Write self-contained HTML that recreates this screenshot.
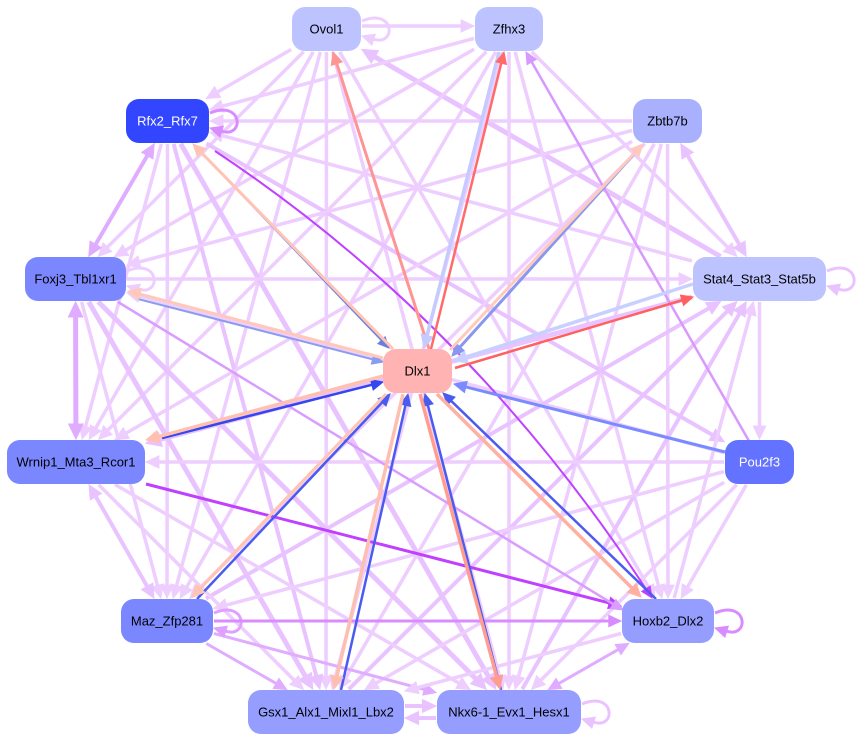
<!DOCTYPE html>
<html>
<head>
<meta charset="utf-8">
<style>
html,body{margin:0;padding:0;background:#fff;}
svg{display:block;}
text{font-family:"Liberation Sans",Arial,sans-serif;font-size:13px;}
</style>
</head>
<body>
<svg id="svg" width="857" height="742" viewBox="0 0 857 742" xmlns="http://www.w3.org/2000/svg">
<rect x="0" y="0" width="857" height="742" fill="#fff"/>
<g id="edges"></g>
<g id="strong"></g>
<g id="nodes">
  <rect x="292" y="7" width="69" height="44" rx="13" fill="#bcc3ff"/>
  <text x="326.5" y="33.5" text-anchor="middle" fill="#000">Ovol1</text>
  <rect x="475" y="7" width="68" height="44" rx="13" fill="#bcc3ff"/>
  <text x="509" y="33.5" text-anchor="middle" fill="#000">Zfhx3</text>
  <rect x="126" y="99" width="83" height="44" rx="13" fill="#3346ff"/>
  <text x="167.5" y="125.5" text-anchor="middle" fill="#fff">Rfx2_Rfx7</text>
  <rect x="633" y="99" width="69" height="44" rx="13" fill="#a9b1ff"/>
  <text x="667.5" y="125.5" text-anchor="middle" fill="#000">Zbtb7b</text>
  <rect x="25" y="257" width="101" height="44" rx="13" fill="#7b87ff"/>
  <text x="75.5" y="283.5" text-anchor="middle" fill="#000">Foxj3_Tbl1xr1</text>
  <rect x="693" y="257" width="133" height="44" rx="13" fill="#bcc3ff"/>
  <text x="759.5" y="283.5" text-anchor="middle" fill="#000">Stat4_Stat3_Stat5b</text>
  <rect x="383" y="349" width="69" height="44" rx="13" fill="#ffb3b3"/>
  <text x="417.5" y="375.5" text-anchor="middle" fill="#000">Dlx1</text>
  <rect x="7" y="440" width="138" height="44" rx="13" fill="#7b87ff"/>
  <text x="76" y="466.5" text-anchor="middle" fill="#000">Wrnip1_Mta3_Rcor1</text>
  <rect x="725" y="440" width="69" height="44" rx="13" fill="#6372ff"/>
  <text x="759.5" y="466.5" text-anchor="middle" fill="#fff">Pou2f3</text>
  <rect x="121" y="599" width="92" height="44" rx="13" fill="#7b87ff"/>
  <text x="167" y="625.5" text-anchor="middle" fill="#000">Maz_Zfp281</text>
  <rect x="622" y="599" width="92" height="44" rx="13" fill="#959eff"/>
  <text x="668" y="625.5" text-anchor="middle" fill="#000">Hoxb2_Dlx2</text>
  <rect x="248" y="690" width="156" height="44" rx="13" fill="#959eff"/>
  <text x="326" y="716.5" text-anchor="middle" fill="#000">Gsx1_Alx1_Mixl1_Lbx2</text>
  <rect x="437" y="690" width="144" height="44" rx="13" fill="#959eff"/>
  <text x="509" y="716.5" text-anchor="middle" fill="#000">Nkx6-1_Evx1_Hesx1</text>
</g>
</svg>
<script>
(function(){
var NS="http://www.w3.org/2000/svg";
var R={
O:[292,7,361,51],Z:[475,7,543,51],R:[126,99,209,143],B:[633,99,702,143],
F:[25,257,126,301],S:[693,257,826,301],D:[383,349,452,393],W:[7,440,145,484],
P:[725,440,794,484],M:[121,599,213,643],H:[622,599,714,643],G:[248,690,404,734],
N:[437,690,581,734]};
var gE=document.getElementById("edges"), gS=document.getElementById("strong");
function el(g,tag,attrs){var e=document.createElementNS(NS,tag);for(var k in attrs)e.setAttribute(k,attrs[k]);g.appendChild(e);return e;}
function ctr(k){var r=R[k];return[(r[0]+r[2])/2,(r[1]+r[3])/2];}
function exitPt(r,p,d){
  var t=Infinity;
  if(d[0]>0)t=Math.min(t,(r[2]-p[0])/d[0]);else if(d[0]<0)t=Math.min(t,(r[0]-p[0])/d[0]);
  if(d[1]>0)t=Math.min(t,(r[3]-p[1])/d[1]);else if(d[1]<0)t=Math.min(t,(r[1]-p[1])/d[1]);
  return[p[0]+d[0]*t,p[1]+d[1]*t];
}
function arrow(g,tip,ux,uy,len,hw,color){
  var bx=tip[0]-ux*len,by=tip[1]-uy*len,px=-uy,py=ux;
  el(g,"polygon",{points:tip[0]+","+tip[1]+" "+(bx+px*hw)+","+(by+py*hw)+" "+(bx-px*hw)+","+(by-py*hw),fill:color,stroke:color,"stroke-width":1});
}
function seg(g,s,e,color,w,aS,aE){
  var dx=e[0]-s[0],dy=e[1]-s[1],L=Math.hypot(dx,dy),ux=dx/L,uy=dy/L;
  var len=8+w*1.4,hw=3.5+w*0.75;
  var a=[s[0],s[1]],b=[e[0],e[1]];
  if(aE){b=[e[0]-ux*(len-1),e[1]-uy*(len-1)];}
  if(aS){a=[s[0]+ux*(len-1),s[1]+uy*(len-1)];}
  el(g,"line",{x1:a[0],y1:a[1],x2:b[0],y2:b[1],stroke:color,"stroke-width":w});
  if(aE)arrow(g,e,ux,uy,len,hw,color);
  if(aS)arrow(g,s,-ux,-uy,len,hw,color);
}
function edge(g,a,b,color,w,dir,off){
  var ca=ctr(a),cb=ctr(b),dx=cb[0]-ca[0],dy=cb[1]-ca[1],L=Math.hypot(dx,dy),ux=dx/L,uy=dy/L,px=-uy,py=ux,o=off||0;
  var pa=[ca[0]+px*o,ca[1]+py*o],pb=[cb[0]+px*o,cb[1]+py*o];
  var s=exitPt(R[a],pa,[ux,uy]),e=exitPt(R[b],pb,[-ux,-uy]);
  s=[s[0]+ux*1,s[1]+uy*1];e=[e[0]-ux*1,e[1]-uy*1];
  seg(g,s,e,color,w,dir.indexOf("<")>=0,dir.indexOf(">")>=0);
}
var L="#eecdff",T="#e9c3ff",Pm="#e0acff";
var lw=3.5;
var E=[
['O','Z',L,lw,'>',-3],['O','R',L,lw,'>'],['O','F',L,lw,'>'],['S','O',T,5,'>'],['O','W',L,lw,'>'],
['O','M',L,lw,'>'],['O','H',L,lw,'>'],['O','G',L,lw,'>'],['O','N',L,lw,'>'],
['Z','R',L,lw,'>'],['Z','F',L,lw,'>'],['Z','S',L,lw,'>'],['Z','W',L,lw,'>'],['Z','M',L,lw,'>'],
['Z','H',L,lw,'>'],['Z','G',L,lw,'>'],['Z','N',L,lw,'>'],
['B','R',L,lw,'>'],['R','F',Pm,4,'<>'],['S','R',L,lw,'>'],['R','W',L,lw,'>'],['R','P',T,4,'>'],
['R','M',L,lw,'>'],['R','G',T,4,'>'],['R','N',T,5,'>'],
['B','F',L,lw,'>'],['B','S',T,4,'<>'],['B','W',L,lw,'>'],['B','M',L,lw,'>'],['B','H',L,lw,'>'],
['B','G',L,lw,'>'],['B','N',L,lw,'>'],
['F','S',L,lw,'>'],['F','W',Pm,5,'<>'],['P','F',L,lw,'>'],['F','M',L,lw,'>'],['F','G',T,5,'>'],['F','N',T,5,'>'],
['S','W',T,5,'>'],['S','P',L,lw,'>'],['M','S',T,4,'>'],['H','S',L,lw,'>'],['G','S',T,4,'>'],['N','S',T,4,'>'],
['P','W',L,lw,'>'],['W','M',T,4,'<>'],['W','G',L,lw,'>'],['W','N',L,lw,'>'],
['P','M',L,lw,'>'],['P','H',L,lw,'>'],['P','G',L,lw,'>'],['P','N',L,lw,'>'],
['M','G',Pm,3,'>'],['M','N',Pm,3,'>'],['H','G',L,lw,'>'],['N','H',Pm,3,'<>'],
['G','N',T,4,'>',-6],['N','G',T,4,'>',-6]
];
E.forEach(function(d){edge(gE,d[0],d[1],d[2],d[3],d[4],d[5]);});

function loop(g,x2,cy,color,w){
  el(g,"path",{d:"M"+(x2+1)+","+(cy-8)+" C"+(x2+34)+","+(cy-22)+" "+(x2+36)+","+(cy+18)+" "+(x2+12)+","+(cy+10),fill:"none",stroke:color,"stroke-width":w});
  arrow(g,[x2+1,cy+7],-0.95,-0.3,8+w*1.4,3.5+w*0.75,color);
}
loop(gE,361,29,L,3);loop(gE,126,279,L,3);loop(gE,826,279,T,3);loop(gE,581,712,T,3);
loop(gS,209,121,"#d98cff",3);loop(gS,213,621,"#e0a0ff",3);loop(gS,714,621,"#d98cff",3);

function X(p1,p2,c,w){seg(gS,p1,p2,c,w,false,true);}
X([749,441],[526,52],"#d899ff",2.5);
X([146,484],[621,606],"#c040ff",3);
X([118,302],[623,610],"#d99cff",2.5);
X([214,621],[621,621],"#d98cff",3);
el(gS,"path",{d:"M215,151 Q470,320 646,589",fill:"none",stroke:"#c040ff","stroke-width":2});
(function(){var dx=652-470,dy=598-320,L2=Math.hypot(dx,dy);arrow(gS,[652,598],dx/L2,dy/L2,11,5,"#c040ff");})();
X([429,349],[333,52],"#ff9494",3);
X([499,52],[424,348],"#c5cbff",3.5);
X([431,349],[504,52],"#ff6b6b",2.5);
X([199,150],[389,348],"#6a7ee0",2);
X([393,349],[193,144],"#ffc4b4",3);
X([634,154],[452,356],"#8898f0",3);
X([450,350],[643,144],"#ffcabd",3);
X([138,299],[383,362],"#8b9cf0",2);
X([383,358],[128,291],"#ffc8b8",3);
X([162,438],[383,382],"#3446ee",2.5);
X([383,376],[146,440],"#ffc0b0",3.5);
X([693,284],[454,361],"#c8d0ff",3.5);
X([455,368],[693,297],"#ff6060",2.5);
X([725,452],[454,384],"#7a8bff",3);
X([656,599],[443,393],"#4a5cf0",2.5);
X([437,394],[641,597],"#ffb0a0",3.5);
X([501,690],[425,394],"#4a5cf0",2.5);
X([420,394],[500,689],"#ff9e90",3.5);
X([341,690],[408,394],"#4a5cf0",2.5);
X([403,394],[334,689],"#ffbfb0",3.5);
X([197,599],[390,394],"#4a5cf0",2.5);
X([386,394],[192,597],"#ffc4b4",3);
})();
</script>
</body>
</html>
